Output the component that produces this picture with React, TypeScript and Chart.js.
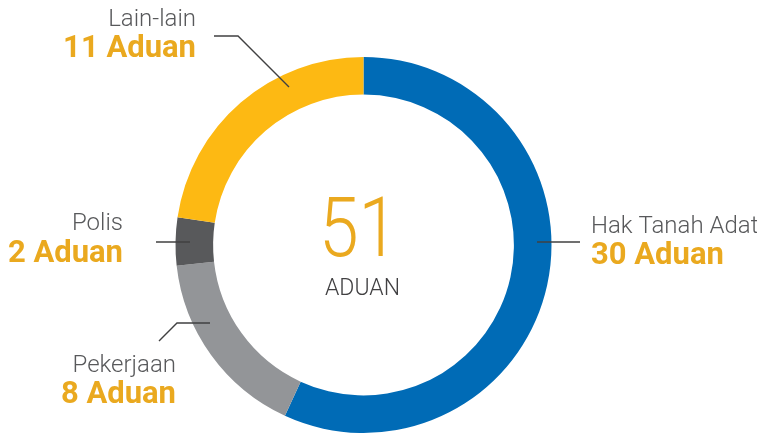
import React, { useEffect, useRef } from "react";
import { Chart, registerables } from "chart.js";

Chart.register(...registerables);

const categories = ["Hak Tanah Adat", "Pekerjaan", "Polis", "Lain-lain"];
// complaint counts shown in the labels
const values = [30, 8, 2, 11];
// arc sizes as drawn in the picture (the original ring is not exactly proportional)
const arcShares = [29.0, 8.35, 2.1, 11.55];
const colors = ["#006BB6", "#939598", "#58595B", "#FDB913"];
const unitLabel = "Aduan";
const centerLabel = "ADUAN";

// label layout: [textX, nameBaseline, valueBaseline, align, leader polyline]
const labelLayout: { x: number; y1: number; y2: number; align: CanvasTextAlign; line: number[][] }[] = [
  { x: 591, y1: 233, y2: 264, align: "left", line: [[537, 242], [580, 242]] },
  { x: 176, y1: 372, y2: 403, align: "right", line: [[159, 341], [177, 323], [210, 323]] },
  { x: 123, y1: 230, y2: 262, align: "right", line: [[156, 242], [190, 242]] },
  { x: 196, y1: 26, y2: 57, align: "right", line: [[214, 36], [238, 36], [289, 87]] },
];

export default function App() {
  const ref = useRef<HTMLCanvasElement>(null);
  useEffect(() => {
    document.body.style.margin = "0";
    const labelsPlugin = {
      id: "labelsPlugin",
      afterDraw(chart: any) {
        const ctx = chart.ctx as CanvasRenderingContext2D;
        ctx.save();
        labelLayout.forEach((l, i) => {
          ctx.strokeStyle = "#404041";
          ctx.lineWidth = 1.4;
          ctx.beginPath();
          l.line.forEach((p, j) => (j === 0 ? ctx.moveTo(p[0], p[1]) : ctx.lineTo(p[0], p[1])));
          ctx.stroke();
          ctx.textAlign = l.align;
          ctx.textBaseline = "alphabetic";
          ctx.fillStyle = "#58595B";
          ctx.font = "300 24px Roboto";
          ctx.fillText(categories[i], l.x, l.y1);
          ctx.fillStyle = "#EAA91F";
          ctx.font = "700 31px Roboto";
          ctx.fillText(`${values[i]} ${unitLabel}`, l.x, l.y2);
        });
        const total = values.reduce((a, b) => a + b, 0);
        const meta = chart.getDatasetMeta(0).data[0];
        const cx = meta.x;
        const cy = meta.y;
        ctx.textAlign = "center";
        ctx.fillStyle = "#EAA91F";
        ctx.font = "300 83px Roboto";
        ctx.save();
        ctx.translate(cx - 5, cy + 11);
        ctx.scale(0.86, 1);
        ctx.fillText(String(total), 0, 0);
        ctx.restore();
        ctx.fillStyle = "#414042";
        ctx.font = "300 23px Roboto";
        ctx.fillText(centerLabel, cx - 1, cy + 50);
        ctx.restore();
      },
    };
    const chart = new Chart(ref.current!, {
      type: "doughnut",
      data: {
        labels: categories,
        datasets: [
          {
            data: arcShares,
            backgroundColor: colors,
            borderWidth: 0,
            hoverOffset: 0,
          },
        ],
      },
      options: {
        animation: false,
        responsive: false,
        cutout: "80%",
        layout: { padding: { top: 57, bottom: 2, left: 0, right: 30 } },
        plugins: { legend: { display: false }, tooltip: { enabled: false } },
      },
      plugins: [labelsPlugin],
    });
    return () => chart.destroy();
  }, []);
  return <canvas ref={ref} width={757} height={435} style={{ display: "block" }} />;
}
